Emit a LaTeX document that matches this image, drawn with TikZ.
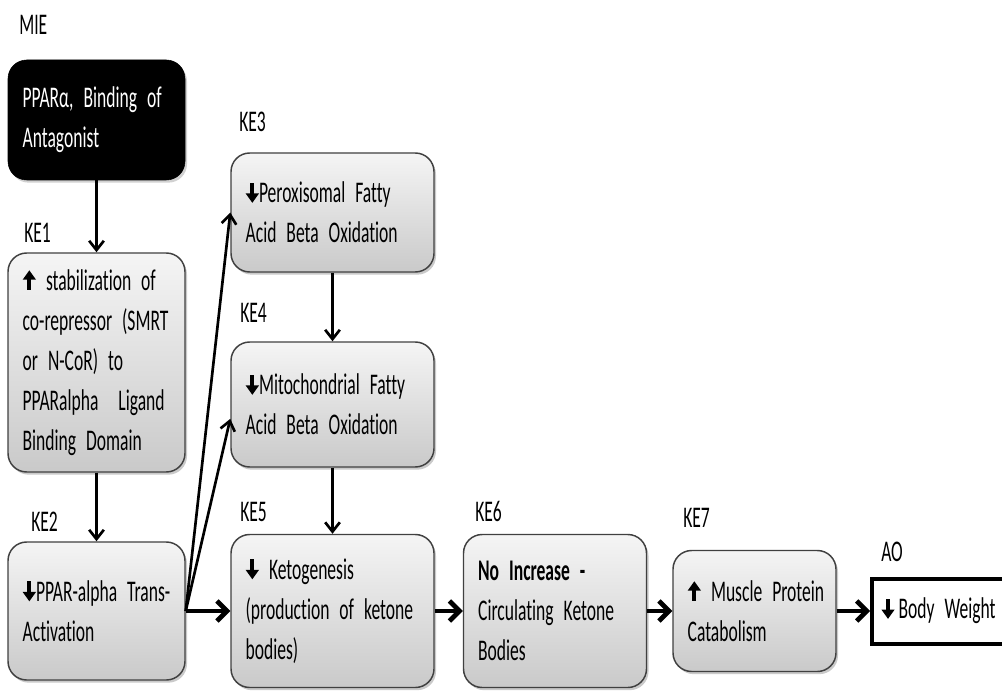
\documentclass[tikz,border=0pt]{standalone}
\usepackage{fontspec}
\setmainfont{Carlito}[FakeStretch=0.585,Ligatures=NoCommon]
\usetikzlibrary{arrows.meta,shadows}
\newcommand{\arrdn}{\tikz[x=1pt,y=1pt,baseline=0pt,sharp corners]{\fill[black] (-1.4,6) rectangle (1.4,15); \fill[black] (-5,7) -- (0,0) -- (5,7) -- cycle;}}
\newcommand{\arrup}{\tikz[x=1pt,y=1pt,baseline=0pt,sharp corners]{\fill[black] (-1.4,0) rectangle (1.4,9); \fill[black] (-5,8) -- (0,15) -- (5,8) -- cycle;}}
\newcommand{\nb}[1]{\mbox{#1}}
\newcommand{\setfnt}{\fontsize{22.5}{30}\selectfont\spaceskip=3.8pt\relax}
\begin{document}
\begin{tikzpicture}[x=0.75pt,y=-0.75pt,
  txt/.style={font=\setfnt, text=black},
  lbl/.style={txt, anchor=west, inner sep=0pt},
  kebox/.style={txt, draw=black!75, line width=1.1pt, rounded corners=14pt,
    top color=gray!8, bottom color=gray!42,
    drop shadow={shadow xshift=1.5pt, shadow yshift=-2pt, opacity=0.35, fill=black!60},
    align=left, inner xsep=11pt, inner ysep=0pt},
  miebox/.style={txt, fill=black, draw=black, rounded corners=14pt, text=white,
    drop shadow={shadow xshift=1.5pt, shadow yshift=-2pt, opacity=0.3, fill=black!60},
    align=left, inner xsep=11pt, inner ysep=0pt},
  aobox/.style={txt, draw=black, line width=3pt, fill=white, align=left,
    inner xsep=7pt, inner ysep=0pt},
  thinarr/.style={-{Straight Barb[length=7pt,width=11pt]}, line width=2pt},
  thickarr/.style={-{Straight Barb[length=7.5pt,width=15pt]}, line width=3.5pt}
]
\useasboundingbox (0,0) rectangle (1002,691);

% labels
\node[lbl] (lmie) at (19,25) {MIE};
\node[lbl] (lke1) at (24,233) {KE1};
\node[lbl] (lke2) at (31,522) {KE2};
\node[lbl] (lke3) at (239,122) {KE3};
\node[lbl] (lke4) at (240,313) {KE4};
\node[lbl] (lke5) at (240,512) {KE5};
\node[lbl] (lke6) at (475,511) {KE6};
\node[lbl] (lke7) at (683,518) {KE7};
\node[lbl] (lao) at (881,552) {AO};

% boxes
\node[miebox, minimum width=132.75pt, minimum height=90pt, text width=110.75pt] (mie) at (96.5,120)
  {\nb{PPARα, Binding of}\\\nb{Antagonist}};
\node[kebox, minimum width=132.75pt, minimum height=164.25pt, text width=110.75pt] (ke1) at (96.5,362.5)
  {\nb{\arrup\ stabilization of}\\\nb{co-repressor (SMRT}\\\nb{or N-CoR) to}\\\nb{PPARalpha\ \ Ligand}\\\nb{Binding Domain}};
\node[kebox, minimum width=132.75pt, minimum height=103.5pt, text width=110.75pt] (ke2) at (96.5,611)
  {\nb{\arrdn PPAR-alpha Trans-}\\\nb{Activation}};
\node[kebox, minimum width=152.25pt, minimum height=89.25pt, text width=130.25pt] (ke3) at (332.5,212.5)
  {\nb{\arrdn Peroxisomal Fatty}\\\nb{Acid Beta Oxidation}};
\node[kebox, minimum width=152.25pt, minimum height=93.75pt, text width=130.25pt] (ke4) at (332.5,404.5)
  {\nb{\arrdn Mitochondrial Fatty}\\\nb{Acid Beta Oxidation}};
\node[kebox, minimum width=152.25pt, minimum height=114.75pt, text width=130.25pt] (ke5) at (332.5,611)
  {\nb{\arrdn\ Ketogenesis}\\\nb{(production of ketone}\\\nb{bodies)}};
\node[kebox, minimum width=137.25pt, minimum height=114.75pt, text width=115.25pt] (ke6) at (555,611)
  {\nb{\bfseries No Increase -}\\\nb{Circulating Ketone}\\\nb{Bodies}};
\node[kebox, minimum width=122.25pt, minimum height=90.75pt, text width=100.25pt] (ke7) at (754.5,611)
  {\nb{\arrup\ Muscle Protein}\\\nb{Catabolism}};
\node[aobox, minimum width=120pt, minimum height=48.75pt, text width=106pt] (ao) at (952,611)
  {\nb{\arrdn\hspace{3pt}Body Weight}};

% connectors
\draw[thinarr] (mie) -- (ke1);
\draw[thinarr] (ke1) -- (ke2);
\draw[thinarr] (ke3) -- (ke4);
\draw[thinarr] (ke4) -- (ke5);
\draw[thinarr] (ke2.east) -- (ke3.west);
\draw[thinarr] (ke2.east) -- (ke4.188);
\draw[thickarr] (ke2.east) -- (ke5.west);
\draw[thickarr] (ke5) -- (ke6);
\draw[thickarr] (ke6) -- (ke7);
\draw[thickarr] (ke7) -- (ao);
\end{tikzpicture}
\end{document}
